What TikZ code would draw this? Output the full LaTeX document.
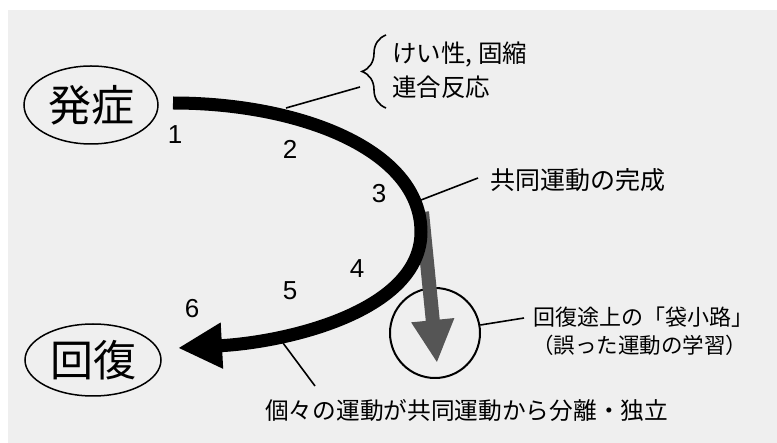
\documentclass[tikz,border=0pt]{standalone}
\usepackage{fontspec}
\setmainfont{Liberation Sans}
\newfontfamily\jp{Noto Sans CJK JP}
\usetikzlibrary{arrows.meta,decorations.pathreplacing,shapes.geometric}
\definecolor{bgray}{HTML}{EFEFEF}
\definecolor{darrow}{HTML}{555555}
\tikzset{
  ell/.style={ellipse, draw, line width=1.5pt, inner sep=0pt, font=\fontsize{43}{43}\selectfont\jp},
  lbl/.style={anchor=west, inner sep=0pt, font=\fontsize{24}{24}\selectfont\jp},
  num/.style={inner sep=0pt, font=\fontsize{26}{26}\selectfont},
  thin line/.style={line width=1.6pt},
}
\begin{document}
\begin{tikzpicture}[x=1pt,y=-1pt]
\useasboundingbox (0,0) rectangle (777,443);
\fill[white] (0,0) rectangle (777,443);
\fill[bgray] (8,10) rectangle (777,443);

% state nodes
\node[ell, minimum width=134pt, minimum height=78pt] (onset) at (91,105) {発症};
\node[ell, minimum width=136pt, minimum height=72pt] (recov) at (93,360) {回復};
\node[circle, draw, line width=2pt, minimum size=90pt, inner sep=0pt] (dead) at (435,333) {};

% path coordinates
\coordinate (s) at (173,103);
\coordinate (r) at (421,232);
\coordinate (e) at (178,348);
\coordinate (g0) at (422,212);
\coordinate (g1) at (437,363);

% gray dead-end arrow
\draw[darrow, line width=14pt, -{Triangle[length=43pt,width=40pt]}] (g0) -- (g1);
% main recovery arrow
\draw[line width=13pt, -{Triangle[length=44pt,width=43pt]}]
  (s) .. controls (300,103) and (421,150) .. (r)
      .. controls (421,310) and (290,342) .. (e);

% numbers
\node[num] (n1) at (175,135) {1};
\node[num] (n2) at (290,149) {2};
\node[num] (n3) at (379,194) {3};
\node[num] (n4) at (357,269) {4};
\node[num] (n5) at (290,291) {5};
\node[num] (n6) at (192,309) {6};

% brace and labels
\draw[thin line, decorate, decoration={brace,amplitude=24pt}] (386,108) -- (386,35);
\node[lbl, font=\fontsize{24.5}{24.5}\selectfont\jp] (t1a) at (392,55) {けい性, 固縮};
\node[lbl, font=\fontsize{24.5}{24.5}\selectfont\jp] (t1b) at (392,87) {連合反応};
\coordinate (c2) at (286,108);
\coordinate (b1) at (360,87);
\draw[thin line] (c2) -- (b1);

\node[lbl, font=\fontsize{25}{25}\selectfont\jp] (t3) at (490,180) {共同運動の完成};
\coordinate (c3) at (421,200);
\coordinate (c3e) at (478,178);
\draw[thin line] (c3) -- (c3e);

\node[lbl, font=\fontsize{22}{22}\selectfont\jp] (t4a) at (533,317) {回復途上の「袋小路」};
\node[lbl, font=\fontsize{21.5}{21.5}\selectfont\jp] (t4b) at (532,345) {（誤った運動の学習）};
\coordinate (c4e) at (524,318);
\draw[thin line] (dead.10) -- (c4e);

\node[lbl, font=\fontsize{23.7}{23.7}\selectfont\jp] (t5) at (265,410) {個々の運動が共同運動から分離・独立};
\coordinate (c5) at (283,343);
\coordinate (c5e) at (315,386);
\draw[thin line] (c5) -- (c5e);
\end{tikzpicture}
\end{document}
